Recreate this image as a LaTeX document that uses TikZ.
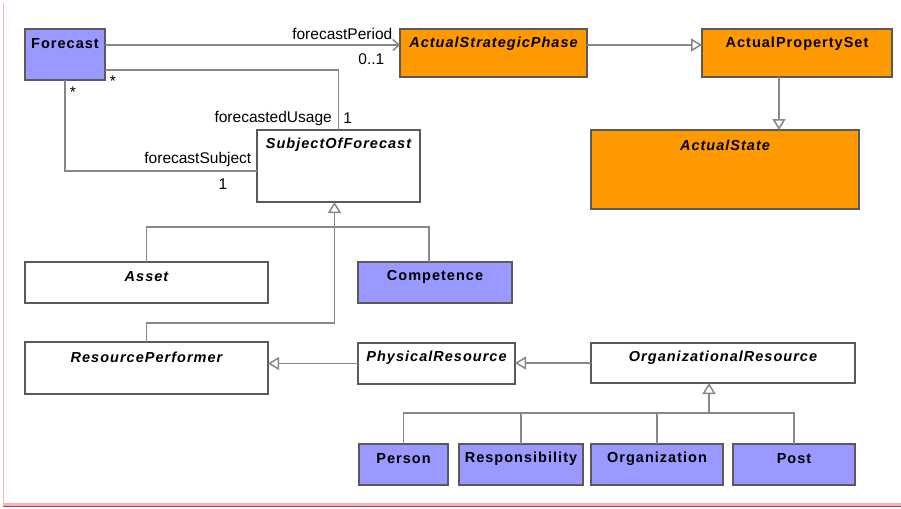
\documentclass[tikz,border=0pt]{standalone}
\usepackage{fontspec}
\setmainfont{Liberation Sans}
\newfontfamily\clsfamily[LetterSpace=7]{Liberation Sans}
\usepackage{xcolor}
\usetikzlibrary{arrows.meta, positioning, calc}
\definecolor{umlblue}{RGB}{153,153,255}
\definecolor{umlorange}{RGB}{255,153,0}
\definecolor{umlline}{RGB}{135,135,135}
\definecolor{umlframe}{RGB}{90,90,90}
\definecolor{pagered}{RGB}{200,50,60}
\definecolor{pagepink}{RGB}{240,180,190}
\tikzset{
  cls/.style={draw=umlframe, line width=1.5pt, fill=white, anchor=north west, inner sep=0pt, outer sep=0pt},
  blue/.style={cls, fill=umlblue},
  orange/.style={cls, fill=umlorange},
  title/.style={label={[font=\clsfamily\bfseries\fontsize{14.5}{17}\selectfont, anchor=center, yshift=-15pt]north:#1}},
  ititle/.style={label={[font=\clsfamily\bfseries\itshape\fontsize{14.5}{17}\selectfont, anchor=center, yshift=-15pt]north:#1}},
  assoc/.style={draw=umlline, line width=1.5pt},
  gen/.style={assoc, -{Triangle[open, length=11pt, width=13pt, fill=white]}},
  nav/.style={assoc, -{Straight Barb[length=6pt, width=11pt]}},
  role/.style={font=\fontsize{15.5}{18}\selectfont, inner sep=0pt}
}
\begin{document}
\begin{tikzpicture}[x=1pt, y=-1pt]
\useasboundingbox (0,0) rectangle (901,508);
\fill[pagepink] (3,503) rectangle (901,506);
\draw[pagepink, line width=1pt] (3,3) -- (3,506);
\draw[pagered, line width=1.8pt] (3,506.5) -- (901,506.5);
\node[blue, minimum width=80pt, minimum height=51pt, title=Forecast] (fc) at (25,29) {};
\node[orange, minimum width=187pt, minimum height=48pt, ititle=ActualStrategicPhase] (asp) at (400,29) {};
\node[orange, minimum width=190pt, minimum height=48pt, title=ActualPropertySet] (aps) at (702,29) {};
\node[orange, minimum width=268pt, minimum height=79pt, ititle=ActualState] (ast) at (591,130) {};
\node[cls, minimum width=163pt, minimum height=72pt, ititle=SubjectOfForecast] (sof) at (257,130) {};
\node[cls, minimum width=243pt, minimum height=41pt, ititle=Asset] (asset) at (25,262) {};
\node[blue, minimum width=154pt, minimum height=41pt, title=Competence] (comp) at (358,262) {};
\node[cls, minimum width=243pt, minimum height=52pt, ititle=ResourcePerformer] (rp) at (25,342) {};
\node[cls, minimum width=157pt, minimum height=41pt, ititle=PhysicalResource] (pr) at (358,343) {};
\node[cls, minimum width=264pt, minimum height=40pt, ititle=OrganizationalResource] (orgres) at (591,343) {};
\node[blue, minimum width=89pt, minimum height=41pt, title=Person] (person) at (359,444) {};
\node[blue, minimum width=124pt, minimum height=41pt, title=Responsibility] (resp) at (459,444) {};
\node[blue, minimum width=132pt, minimum height=41pt, title=Organization] (org) at (591,444) {};
\node[blue, minimum width=122pt, minimum height=41pt, title=Post] (post) at (733,444) {};
\draw[nav] ([yshift=-16pt]fc.north east) -- ([yshift=-16pt]asp.north west)
  node[role, pos=1, anchor=south east, xshift=-7pt, yshift=5pt] (lperiod) {forecastPeriod}
  node[role, pos=1, anchor=north east, xshift=-15pt, yshift=-8pt] (mperiod) {0..1};
\draw[assoc] ([yshift=10pt]fc.south east) -| (sof.north)
  node[role, pos=0, anchor=north west, xshift=4pt, yshift=-5pt] (musagefc) {*}
  node[role, pos=1, anchor=east, xshift=-6pt, yshift=12pt] (lusage) {forecastedUsage}
  node[role, pos=1, anchor=west, xshift=4pt, yshift=12pt] (musage) {1};
\draw[assoc] (fc.south) |- ([yshift=-5pt]sof.west)
  node[role, pos=0, anchor=north west, xshift=4pt, yshift=-6pt] (msubjfc) {*}
  node[role, pos=1, anchor=south east, xshift=-5pt, yshift=4pt] (lsubj) {forecastSubject}
  node[role, pos=1, anchor=north, xshift=-34pt, yshift=-7pt] (msubj) {1};
\draw[gen] ([yshift=-16pt]asp.north east) -- ([yshift=-16pt]aps.north west);
\draw[gen] ([xshift=-18pt]aps.south) -- ([xshift=-18pt]aps.south |- ast.north);
\coordinate (sofbase) at ([xshift=-4pt]sof.south);
\draw[assoc] (asset.north) -- ++(0,-35) -| ([xshift=-6pt]comp.north);
\draw[gen] (rp.north) -- ++(0,-19) -| (sofbase);
\draw[gen] (pr.west) -- (pr.west -| rp.east);
\draw[gen] (orgres.west) -- (orgres.west -| pr.east);
\draw[gen] (org.north) -- ++(0,-31) -| ([xshift=-14pt]orgres.south);
\draw[assoc] (person.north) -- ++(0,-31) -| (post.north);
\draw[assoc] (resp.north) -- ++(0,-31);
\end{tikzpicture}
\end{document}
